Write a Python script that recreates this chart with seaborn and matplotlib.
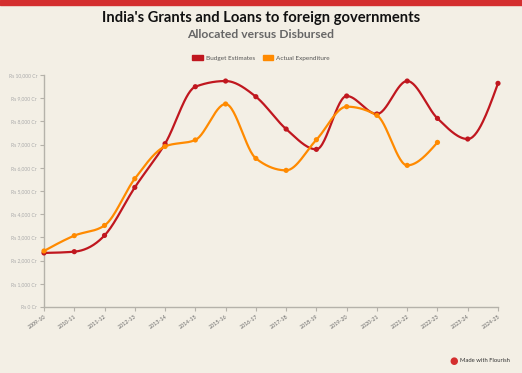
import numpy as np
import pandas as pd
import matplotlib
matplotlib.use("Agg")
import matplotlib.pyplot as plt
import seaborn as sns
from matplotlib.patches import Patch, Rectangle

years = ["2009-10", "2010-11", "2011-12", "2012-13", "2013-14", "2014-15", "2015-16",
         "2016-17", "2017-18", "2018-19", "2019-20", "2020-21", "2021-22", "2022-23",
         "2023-24", "2024-25"]
budget = [2330, 2385, 3085, 5155, 7040, 9495, 9740, 9065, 7670, 6795, 9095, 8320,
          9740, 8130, 7240, 9640]
actual = [2415, 3075, 3515, 5530, 6920, 7200, 8750, 6405, 5890, 7210, 8635, 8260,
          6105, 7095]
yticks = list(range(0, 10001, 1000))
ylabels = ["Rs {:,} Cr".format(v) for v in yticks]

RED = "#c0171f"
ORANGE = "#ff8a00"
BG = "#f3efe5"


def smooth(vals, n=30):
    # monotone cubic (like d3 curveMonotoneX), only used to draw the line
    y = np.array(vals, dtype=float)
    m = len(y)
    s = np.diff(y)
    t = np.zeros(m)
    for i in range(1, m - 1):
        s0, s1 = s[i - 1], s[i]
        p = (s0 + s1) / 2
        t[i] = (np.sign(s0) + np.sign(s1)) * min(abs(s0), abs(s1), 0.5 * abs(p))
    t[0] = (3 * s[0] - t[1]) / 2
    t[-1] = (3 * s[-1] - t[-2]) / 2
    xs, ys = [], []
    for i in range(m - 1):
        u = np.linspace(0, 1, n, endpoint=False)
        h00 = 2 * u ** 3 - 3 * u ** 2 + 1
        h10 = u ** 3 - 2 * u ** 2 + u
        h01 = -2 * u ** 3 + 3 * u ** 2
        h11 = u ** 3 - u ** 2
        xs.extend(i + u)
        ys.extend(h00 * y[i] + h10 * t[i] + h01 * y[i + 1] + h11 * t[i + 1])
    xs.append(m - 1)
    ys.append(y[-1])
    return pd.DataFrame({"x": xs, "y": ys})


sns.set_theme(style="ticks")
plt.rcParams["font.family"] = ["Lato", "DejaVu Sans"]

fig = plt.figure(figsize=(5.22, 3.73), dpi=100, facecolor=BG)
ax = fig.add_axes([44 / 522, 1 - 307 / 373, 454 / 522, 232 / 373])
ax.set_facecolor(BG)

sb = smooth(budget)
sa = smooth(actual)
sns.lineplot(data=sb, x="x", y="y", color=RED, lw=1.6, ax=ax, clip_on=False)
sns.lineplot(data=sa, x="x", y="y", color=ORANGE, lw=1.6, ax=ax, clip_on=False)
pb = pd.DataFrame({"x": range(len(budget)), "y": budget})
pa = pd.DataFrame({"x": range(len(actual)), "y": actual})
sns.scatterplot(data=pb, x="x", y="y", color=RED, s=14, edgecolor="none", ax=ax,
                clip_on=False, zorder=3)
sns.scatterplot(data=pa, x="x", y="y", color=ORANGE, s=14, edgecolor="none", ax=ax,
                clip_on=False, zorder=3)

ax.set_xlim(0, len(years) - 1)
ax.set_ylim(0, 10000)
ax.set_xticks(range(len(years)))
ax.set_xticklabels(years, rotation=35, ha="right", rotation_mode="anchor",
                   fontsize=3.9, color="#666666")
ax.set_yticks(yticks)
ax.set_yticklabels(ylabels, fontsize=3.6, color="#aaaaaa")
ax.set_xlabel("")
ax.set_ylabel("")
for sp in ["top", "right"]:
    ax.spines[sp].set_visible(False)
for sp in ["left", "bottom"]:
    ax.spines[sp].set_color("#b5b2aa")
    ax.spines[sp].set_linewidth(1)
ax.tick_params(axis="both", length=3, width=0.8, color="#b5b2aa", pad=2)
ax.grid(False)

# top bar
fig.patches.append(Rectangle((0, 1 - 5 / 373), 1, 5 / 373, transform=fig.transFigure,
                             color="#d42f2f", zorder=0))
fig.text(0.5, 1 - 18 / 373, "India's Grants and Loans to foreign governments",
         ha="center", va="center", fontsize=10.6, fontweight="bold", color="#111111")
fig.text(0.5, 1 - 34 / 373, "Allocated versus Disbursed", ha="center", va="center",
         fontsize=8.7, fontweight="bold", color="#666666")

handles = [Patch(color=RED, label="Budget Estimates"),
           Patch(color=ORANGE, label="Actual Expenditure")]
fig.legend(handles=handles, loc="center", bbox_to_anchor=(0.5, 1 - 58 / 373), ncol=2,
           frameon=False, fontsize=4.6, handlelength=1.6, handleheight=0.7,
           columnspacing=1.2, handletextpad=0.5, labelcolor="#555555")

fig.text(454 / 522, 1 - 361 / 373, "\u25cf", ha="center", va="center", fontsize=7,
         color="#d42f2f", family="DejaVu Sans")
fig.text(460 / 522, 1 - 361 / 373, "Made with Flourish", ha="left", va="center",
         fontsize=4.2, color="#333333")

fig.savefig("out.png", dpi=100, facecolor=BG)
